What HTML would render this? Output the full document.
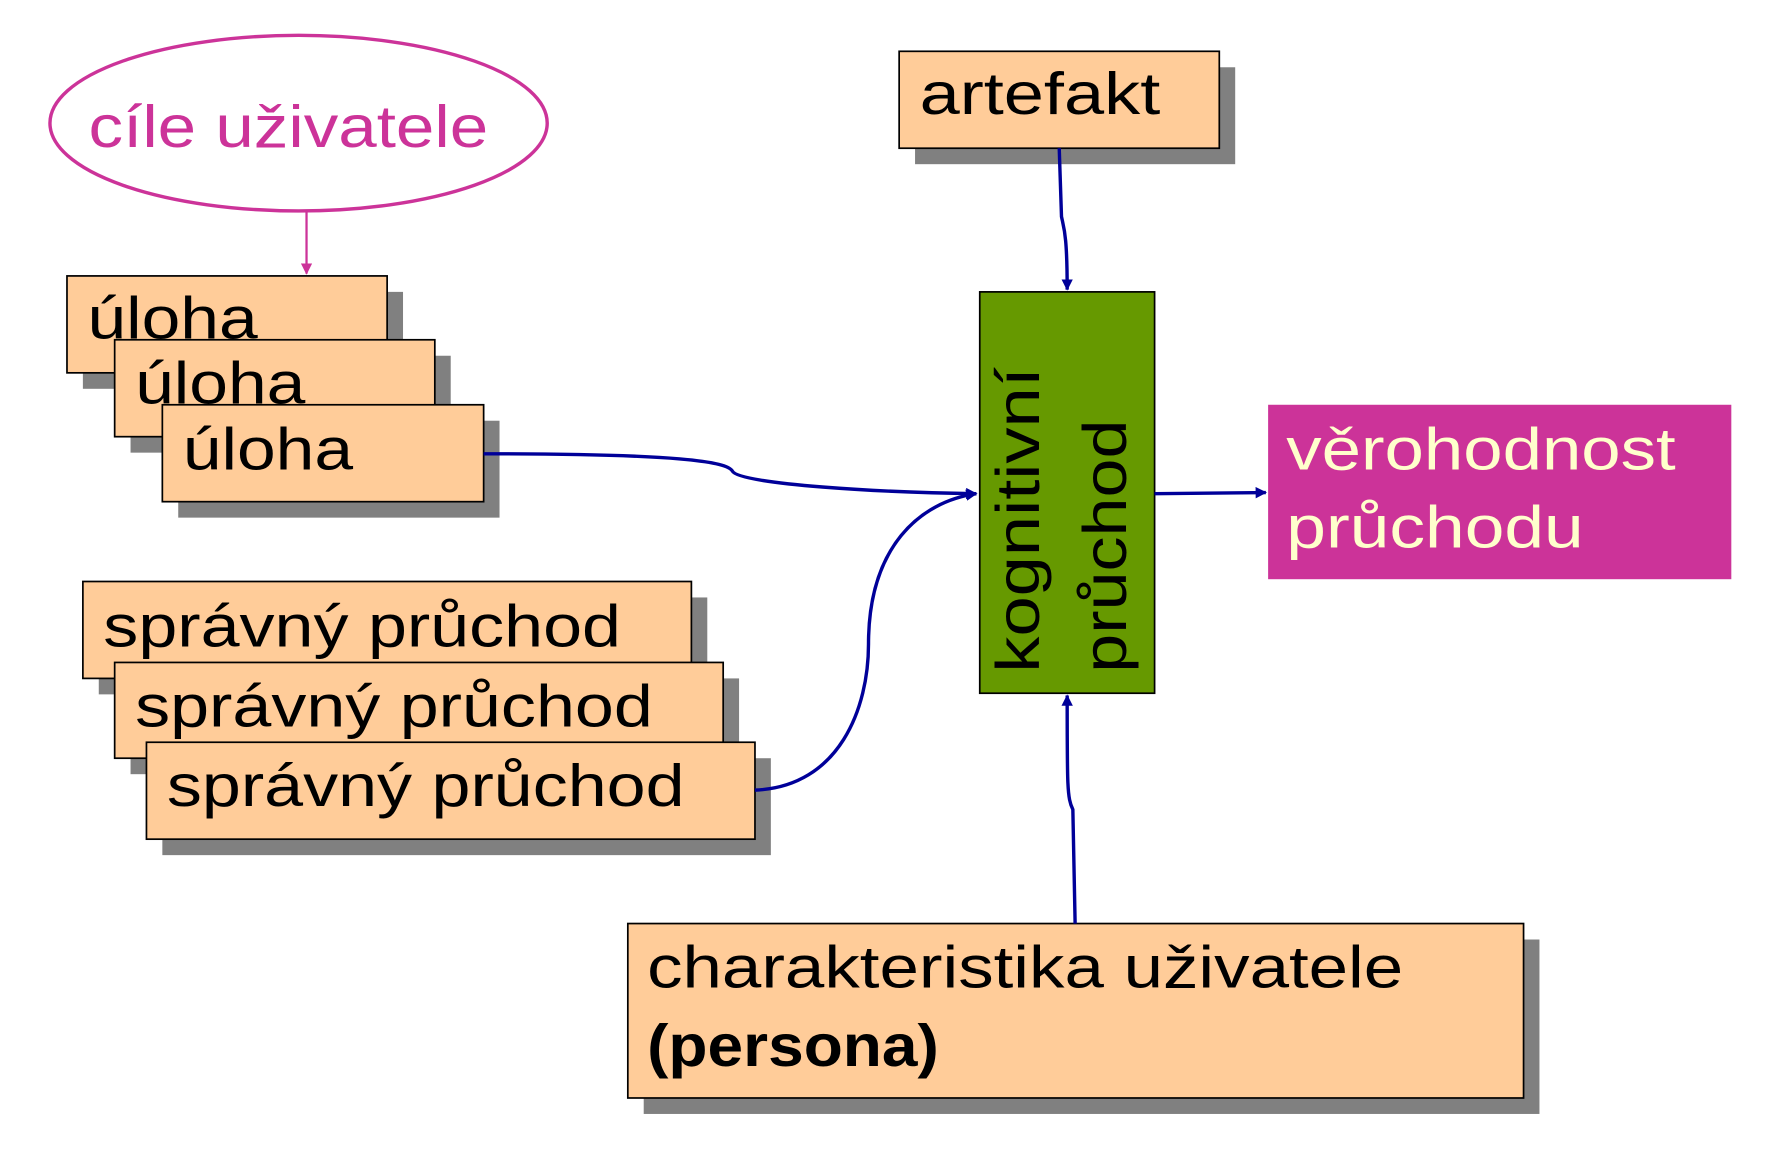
<!DOCTYPE html>
<html><head><meta charset="utf-8"><style>
html,body{margin:0;padding:0;background:#fff;}
svg{display:block;}
text{font-family:"Liberation Sans","DejaVu Sans",sans-serif;}
</style></head><body>
<svg width="1779" height="1155" viewBox="0 0 1567 1013" preserveAspectRatio="none" xmlns="http://www.w3.org/2000/svg">
<defs>
<marker id="ab" markerWidth="10" markerHeight="10" refX="9" refY="5" orient="auto" markerUnits="userSpaceOnUse"><path d="M0,0 L10,5 L0,10 Z" fill="#000099"/></marker>
<marker id="am" markerWidth="10" markerHeight="10" refX="9" refY="5" orient="auto" markerUnits="userSpaceOnUse"><path d="M0,0 L10,5 L0,10 Z" fill="#cc3399"/></marker>
</defs>
<ellipse cx="263" cy="108" rx="219" ry="77" fill="#fff" stroke="#cc3399" stroke-width="3"/>
<text x="78" y="129" font-size="52" fill="#cc3399" textLength="352" lengthAdjust="spacingAndGlyphs">cíle uživatele</text>
<line x1="270" y1="186" x2="270" y2="240" stroke="#cc3399" stroke-width="2" marker-end="url(#am)"/>

<g stroke="#000" stroke-width="1.5">
<rect x="73" y="256" width="282" height="85" fill="#808080" stroke="none"/>
<rect x="59" y="242" width="282" height="85" fill="#ffcc99"/>
<rect x="115" y="312" width="282" height="85" fill="#808080" stroke="none"/>
<rect x="101" y="298" width="282" height="85" fill="#ffcc99"/>
<rect x="157" y="369" width="283" height="85" fill="#808080" stroke="none"/>
<rect x="143" y="355" width="283" height="85" fill="#ffcc99"/>

<rect x="87" y="524" width="536" height="85" fill="#808080" stroke="none"/>
<rect x="73" y="510" width="536" height="85" fill="#ffcc99"/>
<rect x="115" y="595" width="536" height="84" fill="#808080" stroke="none"/>
<rect x="101" y="581" width="536" height="84" fill="#ffcc99"/>
<rect x="143" y="665" width="536" height="85" fill="#808080" stroke="none"/>
<rect x="129" y="651" width="536" height="85" fill="#ffcc99"/>

<rect x="806" y="59" width="282" height="85" fill="#808080" stroke="none"/>
<rect x="792" y="45" width="282" height="85" fill="#ffcc99"/>

<rect x="567" y="824" width="789" height="153" fill="#808080" stroke="none"/>
<rect x="553" y="810" width="789" height="153" fill="#ffcc99"/>

<rect x="863" y="256" width="154" height="352" fill="#669900"/>
</g>
<rect x="1117" y="355" width="408" height="153" fill="#cc3399"/>

<g font-size="52" fill="#000" lengthAdjust="spacingAndGlyphs">
<text x="77" y="297" textLength="150" lengthAdjust="spacingAndGlyphs">úloha</text>
<text x="119" y="354" textLength="150" lengthAdjust="spacingAndGlyphs">úloha</text>
<text x="161" y="412" textLength="150" lengthAdjust="spacingAndGlyphs">úloha</text>
<text x="91" y="567" textLength="456" lengthAdjust="spacingAndGlyphs">správný průchod</text>
<text x="119" y="637" textLength="456" lengthAdjust="spacingAndGlyphs">správný průchod</text>
<text x="147" y="707" textLength="456" lengthAdjust="spacingAndGlyphs">správný průchod</text>
<text x="810" y="100" textLength="212" lengthAdjust="spacingAndGlyphs">artefakt</text>
<text x="570" y="866" textLength="666" lengthAdjust="spacingAndGlyphs">charakteristika uživatele</text>
<text x="570" y="935" font-weight="bold" textLength="257" lengthAdjust="spacingAndGlyphs">(persona)</text>
<text transform="translate(915,590) rotate(-90)" font-size="54" textLength="268" lengthAdjust="spacingAndGlyphs">kognitivní</text>
<text transform="translate(992,590) rotate(-90)" font-size="54" textLength="222" lengthAdjust="spacingAndGlyphs">průchod</text>
</g>
<g font-size="52" fill="#ffffcc">
<text x="1133" y="412" textLength="343" lengthAdjust="spacingAndGlyphs">věrohodnost</text>
<text x="1133" y="480" textLength="262" lengthAdjust="spacingAndGlyphs">průchodu</text>
</g>

<g fill="none" stroke="#000099" stroke-width="3">
<path d="M426,398 C600,398 640,405 645,413 C650,425 780,432 860,433" marker-end="url(#ab)"/>
<path d="M665,693 C740,690 765,620 765,565 C765,480 810,440 860,433" marker-end="url(#ab)"/>
<path d="M933,130 L935,190 C937,200 940,205 940,254" marker-end="url(#ab)"/>
<path d="M947,810 L945,710 C940,700 940,690 940,610" marker-end="url(#ab)"/>
<path d="M1017,433 L1115,432" marker-end="url(#ab)"/>
</g>
</svg>
</body></html>
